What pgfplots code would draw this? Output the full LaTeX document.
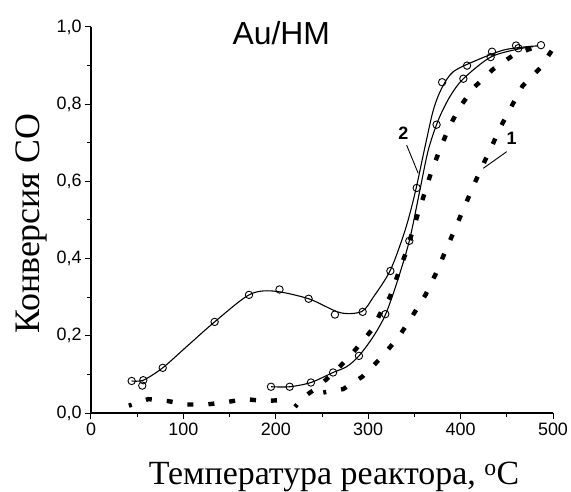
\documentclass[border=0pt]{standalone}
\usepackage{fontspec}
\setmainfont{Liberation Sans}
\newfontfamily\seriffont{Liberation Serif}
\usepackage{pgfplots}
\pgfplotsset{compat=1.18}

\begin{document}
\begin{tikzpicture}
\begin{axis}[
  at={(0,0)}, anchor=south west,
  scale only axis, width=462bp, height=386bp,
  xmin=0, xmax=500, ymin=0, ymax=1,
  axis x line=bottom, axis y line=left,
  axis line style={-, line width=1.1bp},
  xtick={0,100,200,300,400,500}, minor xtick={50,150,250,350,450},
  ytick={0,0.2,0.4,0.6,0.8,1.0}, minor ytick={0.1,0.3,0.5,0.7,0.9},
  tick align=outside, major tick length=6bp, minor tick length=3.5bp,
  every tick/.style={line width=1bp, black},
  tick label style={font=\fontsize{18}{21}\selectfont},
  /pgf/number format/assume math mode=true,
  yticklabel style={/pgf/number format/.cd, use comma, fixed, fixed zerofill, precision=1},
  xticklabel style={/pgf/number format/.cd, fixed, precision=0},
  xlabel={\seriffont Температура реактора, \textsuperscript{o}C},
  ylabel={\seriffont Конверсия СО},
  xlabel style={font=\fontsize{34}{38}\selectfont, at={(axis description cs:0.526,0)}, anchor=center, yshift=-64bp},
  ylabel style={font=\fontsize{36}{40}\selectfont, at={(axis description cs:0,0.49)}, anchor=center, yshift=60bp},
  clip=false,
]
% curve 1 (right dashed series), flat part
\addplot[black, line width=4.4bp, dash pattern=on 6bp off 15bp, dash phase=3bp] coordinates {
(41,0.019)(62,0.036)(83,0.031)(104,0.022)(125,0.022)(146,0.028)(166.7,0.036)(188.6,0.031)(209,0.034)};
% curve 1, rising part
\addplot[black, line width=4.4bp, dash pattern=on 6bp off 15bp, dash phase=3bp] coordinates {
(251.4,0.053)(273,0.062)(293.6,0.094)(313.9,0.143)(333.3,0.198)(348,0.252)(362,0.306)(373.4,0.362)(383,0.416)(392.9,0.471)(402,0.522)(412,0.578)(422,0.632)(433,0.687)(443,0.74)(455,0.794)(467,0.847)(487,0.896)(498.6,0.939)};
% second dashed series
\addplot[black, line width=4.4bp, dash pattern=on 6bp off 15bp, dash phase=3bp] coordinates {
(220.8,0.016)(230.5,0.042)(245,0.066)(266.6,0.113)(286.5,0.165)(304.5,0.217)(316.4,0.274)(323.6,0.301)(332,0.358)(340.6,0.414)(347.7,0.468)(354.3,0.52)(361.5,0.573)(368.7,0.628)(377.7,0.683)(386.7,0.736)(398.6,0.791)(414.8,0.844)(435.4,0.891)(456.4,0.926)(477,0.945)};
% upper solid curve
\addplot[black, line width=1.1bp, smooth, no marks] coordinates {
(44,0.083)(56.6,0.085)(77.6,0.117)(103.5,0.172)(133.8,0.236)(171,0.306)(197,0.316)(235.5,0.296)(269.5,0.26)(293,0.263)(305.5,0.30)(324,0.37)(340,0.474)(350.6,0.569)(361.5,0.69)(370.5,0.785)(379.5,0.841)(392,0.884)(417.5,0.914)(446,0.94)(471.5,0.949)(484,0.951)};
% lower solid curve
\addplot[black, line width=1.1bp, smooth, no marks] coordinates {
(195,0.068)(215,0.068)(238,0.079)(262,0.105)(276.7,0.12)(290,0.148)(305.5,0.198)(318.5,0.254)(330.8,0.336)(344.5,0.446)(356,0.578)(365,0.681)(375.9,0.759)(388.5,0.82)(403,0.866)(432.5,0.922)(462.5,0.943)(478.7,0.949)};
% open circle markers
\addplot[only marks, mark=o, mark size=3.7bp, mark options={fill=white, line width=0.9bp}] coordinates {
(44,0.083)(55.5,0.071)(56.6,0.085)(77.6,0.117)(133.8,0.236)(171,0.306)(204,0.320)(235.5,0.296)(264,0.255)(294,0.262)(324,0.368)(352.5,0.583)(380,0.857)(407,0.90)(434,0.936)(460,0.952)(487,0.953)};
\addplot[only marks, mark=o, mark size=3.7bp, mark options={fill=white, line width=0.9bp}] coordinates {
(194.8,0.068)(215,0.068)(238,0.079)(262,0.105)(290,0.148)(318.5,0.256)(344.5,0.446)(374,0.747)(403,0.866)(432.5,0.922)(462.5,0.945)};
% annotations
\node[font=\fontsize{32}{36}\selectfont] at (axis cs:206,0.985) {Au/HM};
\node[font=\bfseries\fontsize{18}{21}\selectfont] at (axis cs:338,0.725) {2};
\draw[line width=0.9bp] (axis cs:341.6,0.694) -- (axis cs:354.1,0.621);
\node[font=\bfseries\fontsize{18}{21}\selectfont] at (axis cs:455.3,0.712) {1};
\draw[line width=0.9bp] (axis cs:449.9,0.677) -- (axis cs:424.6,0.634);
\end{axis}
\pgfresetboundingbox
\path (-91bp,-79bp) rectangle (480bp,413bp);
\end{tikzpicture}
\end{document}
